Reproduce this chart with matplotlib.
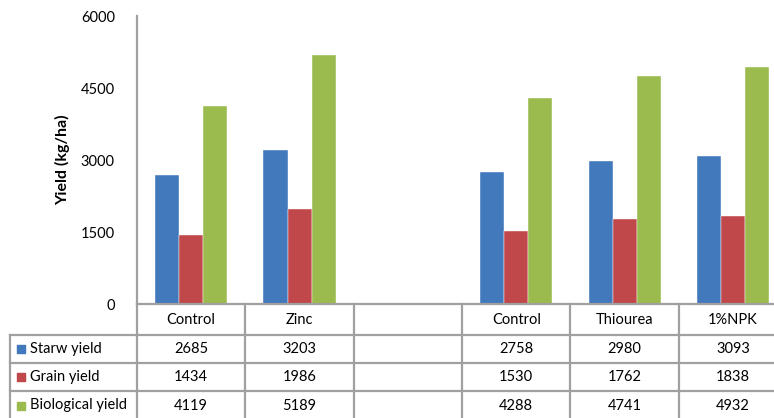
import numpy as np
import matplotlib.pyplot as plt
from matplotlib.transforms import blended_transform_factory

plt.rcParams["font.family"] = ["Lato", "DejaVu Sans"]

# dane
categories = ["Control", "Zinc", "", "Control", "Thiourea", "1%NPK"]
series = ["Starw yield", "Grain yield", "Biological yield"]
starw = [2685, 3203, None, 2758, 2980, 3093]
grain = [1434, 1986, None, 1530, 1762, 1838]
biological = [4119, 5189, None, 4288, 4741, 4932]
colors = ["#4279BC", "#C0474A", "#9BBB4E"]
yticks = [0, 1500, 3000, 4500, 6000]

W, H = 774, 418
fig = plt.figure(figsize=(W / 100, H / 100), dpi=100)
ax = fig.add_axes([137 / W, (H - 304) / H, (W - 137) / W, 288 / H])

data = [starw, grain, biological]
x = np.arange(len(categories))
bw = 0.222
for k in range(3):
    vals = [np.nan if v is None else v for v in data[k]]
    ax.bar(x + (k - 1) * bw, vals, width=bw, color=colors[k],
           edgecolor="white", linewidth=0.3)

ax.set_xlim(-0.5, (W - 191) / 108.4)
ax.set_ylim(0, 6000)
ax.set_yticks(yticks)
ax.set_yticklabels([str(t) for t in yticks], fontsize=10.5)
ax.tick_params(axis="y", length=0, pad=16)
ax.set_xticks([])
for s in ["top", "right", "bottom"]:
    ax.spines[s].set_visible(False)
ax.spines["left"].set_color("#A0A0A0")
ax.spines["left"].set_linewidth(1.6)
ax.set_ylabel("Yield (kg/ha)", fontsize=11.5, fontweight="bold")
ax.yaxis.set_label_coords((70 - 137) / 637, 0.5)

# tabela pod wykresem
tr = blended_transform_factory(ax.transData, ax.transAxes)
lc = "#A0A0A0"
rows_y = [0, -31 / 288, -59 / 288, -87 / 288, -116 / 288]
x_left = (10 - 191) / 108.4
x_right = 7

ax.plot([-0.5, x_right], [0, 0], color=lc, lw=1.6, transform=tr, clip_on=False)
for yy in rows_y[1:4]:
    ax.plot([x_left, x_right], [yy, yy], color=lc, lw=1.6, transform=tr, clip_on=False)
for i in range(len(categories) + 1):
    ax.plot([i - 0.5, i - 0.5], [0, rows_y[-1]], color=lc, lw=1.6, transform=tr, clip_on=False)
ax.plot([x_left, x_left], [rows_y[1], rows_y[-1]], color=lc, lw=1.6, transform=tr, clip_on=False)

hy = (rows_y[0] + rows_y[1]) / 2
for i, c in enumerate(categories):
    ax.text(i, hy, c, ha="center", va="center", fontsize=10.5, transform=tr)

for k in range(3):
    cy = (rows_y[k + 1] + rows_y[k + 2]) / 2
    ax.scatter([x_left + 0.1], [cy], marker="s", s=40, color=colors[k],
               transform=tr, clip_on=False)
    ax.text(x_left + 0.18, cy, series[k], ha="left", va="center",
            fontsize=10.5, transform=tr)
    for i, v in enumerate(data[k]):
        if v is not None:
            ax.text(i, cy, str(v), ha="center", va="center", fontsize=10.5, transform=tr)

fig.savefig("out.png", dpi=100)
